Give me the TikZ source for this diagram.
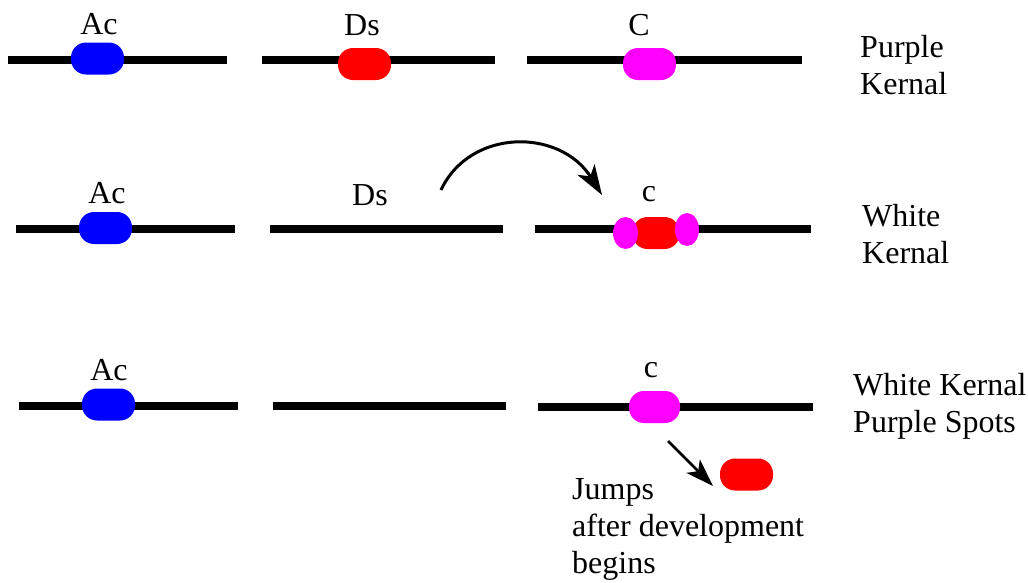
\documentclass[tikz,border=0pt]{standalone}
\usepackage{fontspec}
\setmainfont{Liberation Serif}
\usetikzlibrary{shapes.geometric,arrows.meta}
\definecolor{tnblue}{RGB}{0,0,255}
\definecolor{tnred}{RGB}{255,0,0}
\definecolor{tnmag}{RGB}{255,0,255}
\tikzset{
  chrom/.style={line width=8pt, line cap=butt},
  gene/.style={rectangle, rounded corners=15pt, minimum width=53pt, minimum height=32pt, inner sep=0pt, draw=none},
  blob/.style={ellipse, minimum width=25pt, minimum height=32pt, inner sep=0pt, draw=none, fill=tnmag},
  lbl/.style={anchor=base, inner sep=0pt, font=\fontsize{32}{37}\selectfont},
  side/.style={anchor=base west, inner sep=0pt, align=left, font=\fontsize{32}{37}\selectfont},
  jump/.style={line width=3pt, -{Stealth[length=30pt,width=20pt,inset=8pt]}},
  move/.style={line width=2.5pt, -{Stealth[length=28pt,width=19pt,inset=7pt]}},
}
\begin{document}
\begin{tikzpicture}[x=1pt,y=-1pt]
\useasboundingbox (0,0) rectangle (1028,582);
% row 1
\draw[chrom] (8,60) -- (227,60);
\draw[chrom] (262,60) -- (495,60);
\draw[chrom] (527,60) -- (802,60);
\node[gene, fill=tnblue] (ac1) at (97.5,58.5) {};
\node[gene, fill=tnred] (ds1) at (364.5,64) {};
\node[gene, fill=tnmag] (c1) at (649.5,64) {};
\node[lbl] (ac1l) at (99,34) {Ac};
\node[lbl] (ds1l) at (362,35) {Ds};
\node[lbl] (c1l) at (639,35) {C};
\node[side] (t1) at (860,94) {Purple\\Kernal};
% row 2
\draw[chrom] (16,229) -- (235,229);
\draw[chrom] (270,229) -- (503,229);
\draw[chrom] (535,229) -- (811,229);
\node[gene, fill=tnblue] (ac2) at (105.5,228) {};
\node[gene, fill=tnred, minimum width=47pt] (ds2) at (656,233) {};
\node[blob] (m2a) at (625.5,233) {};
\node[blob, minimum width=24pt, minimum height=33pt] (m2b) at (687,229.5) {};
\node[lbl] (ac2l) at (107,203) {Ac};
\node[lbl] (ds2l) at (370,205) {Ds};
\node[lbl] (c2l) at (649,201) {c};
\node[side] (t2) at (862,263) {White\\Kernal};
\coordinate (arcS) at (441,190);
\coordinate (arcE) at (602,195);
\draw[jump] (arcS) .. controls (470,128) and (560,128) .. (arcE);
% row 3
\draw[chrom] (19,406) -- (238,406);
\draw[chrom] (273,406) -- (506,406);
\draw[chrom] (538,407) -- (813,407);
\node[gene, fill=tnblue] (ac3) at (108.5,404.5) {};
\node[gene, fill=tnmag, minimum width=51pt] (c3) at (654.5,407) {};
\node[gene, fill=tnred] (ds3) at (746.5,474.5) {};
\node[lbl] (ac3l) at (109,380) {Ac};
\node[lbl] (c3l) at (651,377) {c};
\node[side] (t3) at (853,432) {White Kernal\\Purple Spots};
\coordinate (mvS) at (668,441);
\coordinate (mvE) at (713,486);
\draw[move] (mvS) -- (mvE);
\node[side] (t4) at (572,573) {Jumps\\after development\\begins};
\end{tikzpicture}
\end{document}
